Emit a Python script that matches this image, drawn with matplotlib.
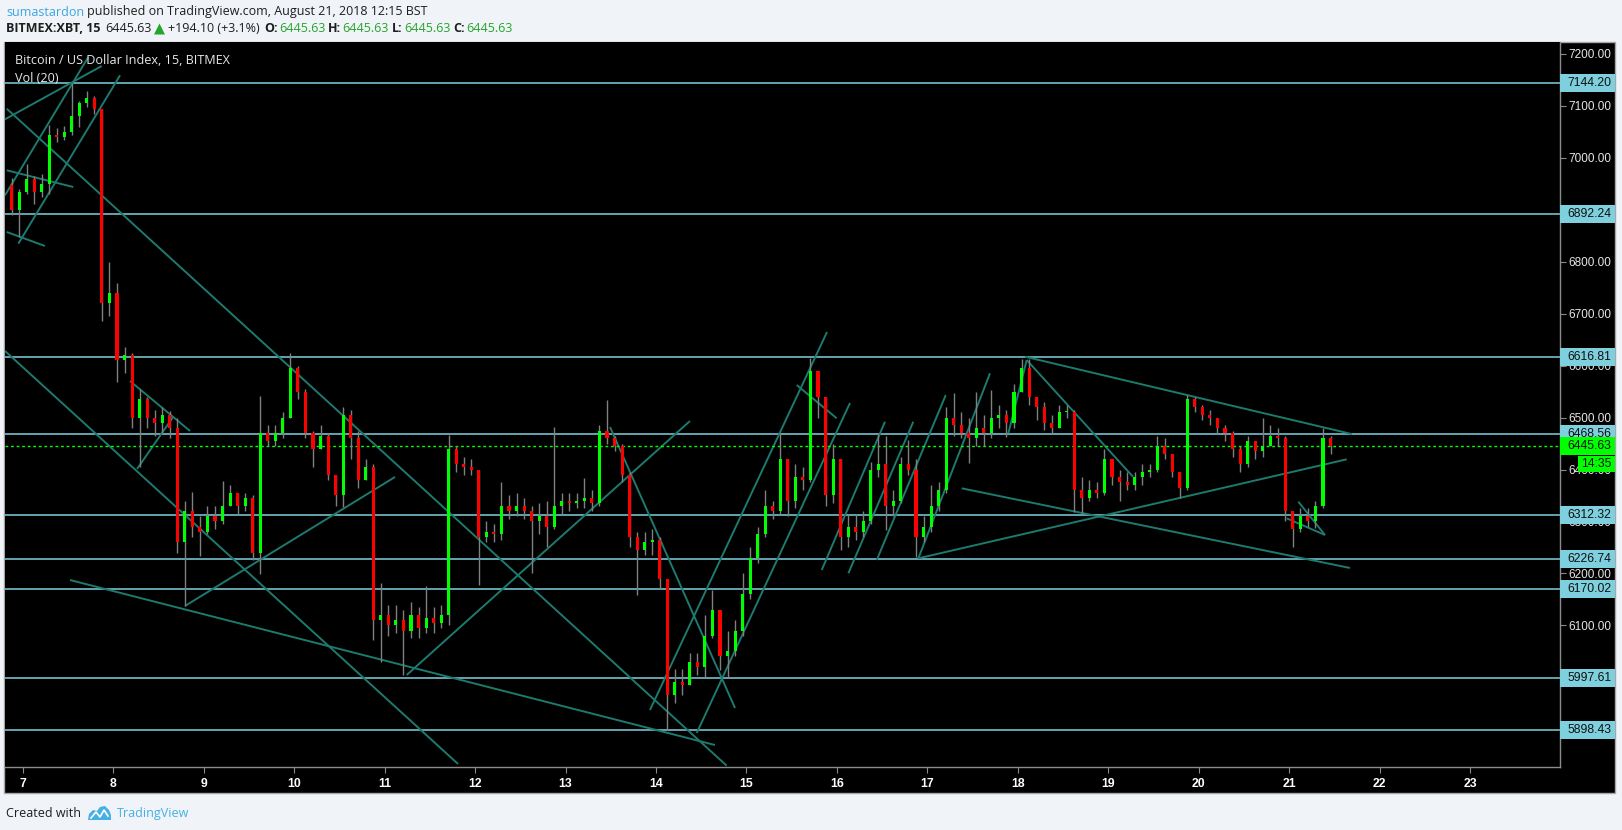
import numpy as np
import pandas as pd
import matplotlib
matplotlib.use('Agg')
import matplotlib.pyplot as plt
import matplotlib.transforms as mtransforms
from matplotlib.patches import Rectangle, Polygon

plt.rcParams['font.family'] = ['Liberation Sans', 'DejaVu Sans']

# ---------------------------------------------------------------- data
# 2 hour candles, first one starts Aug 6 20:00
first_open = 6948
closes = [6900, 6935,
          6960, 6935, 6950, 7045, 7040, 7050, 7080, 7105, 7115, 7095, 6720, 6740,
          6610, 6620, 6500, 6535, 6500, 6490, 6505, 6480, 6260, 6320, 6290, 6280,
          6310, 6300, 6330, 6355, 6330, 6345, 6240, 6470, 6455, 6470, 6500, 6595,
          6550, 6470, 6440, 6465, 6390, 6350, 6505, 6460, 6380, 6405, 6110, 6120,
          6100, 6110, 6090, 6120, 6095, 6115, 6105, 6120, 6440, 6410, 6405, 6400,
          6270, 6280, 6275, 6330, 6320, 6330, 6320, 6300, 6310, 6290, 6330, 6340,
          6335, 6340, 6345, 6335, 6475, 6460, 6445, 6390, 6270, 6245, 6260, 6265,
          6190, 5965, 5990, 5985, 6030, 6020, 6080, 6130, 6040, 6050, 6090, 6160,
          6230, 6275, 6330, 6320, 6420, 6340, 6385, 6380, 6590, 6540, 6350, 6420,
          6270, 6290, 6280, 6300, 6400, 6410, 6330, 6340, 6410, 6400, 6270, 6290,
          6330, 6360, 6500, 6485, 6470, 6460, 6480, 6470, 6500, 6505, 6490, 6550,
          6595, 6540, 6520, 6490, 6480, 6510, 6510, 6360, 6345, 6360, 6355, 6420,
          6385, 6375, 6370, 6385, 6395, 6400, 6445, 6430, 6395, 6365, 6535, 6520,
          6505, 6500, 6480, 6470, 6440, 6410, 6455, 6435, 6445, 6465, 6460, 6320,
          6285, 6310, 6300, 6330, 6460, 6445.63]
highs = [6962, 6940,
         6988, 6965, 6968, 7063, 7058, 7062, 7145, 7110, 7128, 7120, 7095, 6800,
         6760, 6635, 6625, 6555, 6540, 6515, 6520, 6512, 6500, 6340, 6357, 6310,
         6330, 6330, 6377, 6370, 6355, 6355, 6350, 6542, 6485, 6485, 6510, 6624,
         6600, 6555, 6475, 6485, 6470, 6385, 6520, 6515, 6475, 6420, 6410, 6181,
         6140, 6140, 6130, 6145, 6135, 6175, 6135, 6140, 6466, 6445, 6425, 6420,
         6400, 6300, 6295, 6375, 6350, 6355, 6345, 6330, 6335, 6340, 6482, 6355,
         6355, 6355, 6383, 6360, 6485, 6534, 6465, 6450, 6395, 6280, 6280, 6285,
         6270, 6190, 6015, 6015, 6046, 6046, 6120, 6168, 6130, 6090, 6110, 6200,
         6250, 6290, 6360, 6340, 6470, 6420, 6410, 6405, 6614, 6590, 6540, 6450,
         6420, 6315, 6315, 6320, 6415, 6470, 6465, 6360, 6425, 6457, 6420, 6310,
         6370, 6375, 6521, 6547, 6510, 6500, 6550, 6505, 6553, 6525, 6515, 6565,
         6612, 6612, 6540, 6530, 6505, 6525, 6525, 6515, 6385, 6380, 6375, 6440,
         6420, 6400, 6395, 6395, 6410, 6410, 6464, 6460, 6430, 6395, 6543, 6540,
         6525, 6515, 6500, 6485, 6475, 6445, 6465, 6455, 6500, 6485, 6480, 6465,
         6310, 6325, 6325, 6340, 6479, 6465]
lows = [6890, 6847,
        6930, 6912, 6925, 6930, 7030, 7035, 7045, 7060, 7098, 7085, 6686, 6695,
        6569, 6585, 6480, 6405, 6480, 6465, 6470, 6460, 6240, 6137, 6270, 6233,
        6275, 6285, 6295, 6330, 6315, 6320, 6226, 6199, 6446, 6445, 6460, 6500,
        6535, 6460, 6405, 6440, 6380, 6330, 6328, 6420, 6365, 6385, 6072, 6030,
        6080, 6085, 6004, 6075, 6075, 6085, 6085, 6095, 6100, 6395, 6390, 6390,
        6178, 6260, 6260, 6265, 6305, 6310, 6305, 6200, 6275, 6250, 6285, 6315,
        6320, 6325, 6325, 6320, 6330, 6450, 6435, 6375, 6251, 6158, 6235, 6235,
        6170, 5898, 5950, 5965, 5995, 6005, 6000, 6075, 6014, 6000, 6040, 6080,
        6150, 6220, 6270, 6305, 6315, 6310, 6325, 6360, 6375, 6500, 6330, 6335,
        6245, 6250, 6265, 6270, 6295, 6385, 6283, 6310, 6335, 6390, 6231, 6260,
        6280, 6320, 6355, 6465, 6460, 6412, 6445, 6445, 6460, 6480, 6463, 6480,
        6550, 6525, 6495, 6476, 6470, 6495, 6500, 6319, 6316, 6340, 6345, 6350,
        6370, 6340, 6360, 6360, 6370, 6385, 6395, 6420, 6385, 6345, 6360, 6510,
        6495, 6485, 6470, 6455, 6425, 6395, 6405, 6420, 6425, 6450, 6445, 6300,
        6251, 6280, 6290, 6288, 6325, 6430]

levels = [7144.20, 6892.24, 6616.81, 6468.56, 6312.32, 6226.74, 6170.02, 5997.61, 5898.43]
last_price = 6445.63
countdown = '14:35'

day_ticks = list(range(7, 24))
price_ticks = list(range(5900, 7300, 100))

# drawn trend lines, (day of August, price) end points
trend_lines = [
    ((6.803, 7074.3), (7.872, 7176.9)),
    ((6.803, 6927.9), (7.724, 7194.2)),
    ((6.950, 6834.7), (8.075, 7159.0)),
    ((6.822, 7094.7), (14.782, 5829.7)),
    ((6.822, 6976.1), (7.558, 6943.9)),
    ((6.822, 6857.3), (7.245, 6830.3)),
    ((6.803, 6628.2), (11.812, 5833.0)),
    ((7.522, 6187.2), (14.653, 5869.5)),
    ((8.793, 6137.2), (11.115, 6385.6)),
    ((8.185, 6570.4), (8.849, 6474.1)),
    ((8.263, 6401.0), (8.661, 6501.1)),
    ((11.244, 6004.3), (14.376, 6493.4)),
    ((13.492, 6481.8), (14.874, 5940.8)),
    ((13.934, 5936.9), (15.891, 6664.7)),
    ((14.451, 5892.7), (16.145, 6528.0)),
    ((15.556, 6562.7), (15.998, 6498.6)),
    ((15.833, 6206.5), (16.532, 6492.0)),
    ((16.127, 6200.1), (16.845, 6492.0)),
    ((16.441, 6225.7), (17.204, 6543.4)),
    ((16.901, 6229.0), (17.693, 6585.2)),
    ((16.901, 6229.0), (21.637, 6419.6)),
    ((17.380, 6363.8), (21.673, 6210.4)),
    ((17.896, 6469.7), (18.099, 6610.8)),
    ((18.080, 6617.2), (21.692, 6468.3)),
    ((18.099, 6610.8), (19.274, 6386.1)),
    ((21.102, 6338.0), (21.397, 6273.9)),
    ((20.973, 6306.0), (21.397, 6273.9)),
]

# ---------------------------------------------------------------- layout helpers (pixels)
W, H = 1622, 830


def fx(px):
    return px / W


def fy(py):
    return 1 - py / H


LEVEL_COL = '#7fd0de'
TREND_COL = '#1d7a6e'
UP_COL = '#00ff00'
DOWN_COL = '#ff0000'
GRAY = '#8c8c8c'

fig = plt.figure(figsize=(W / 100, H / 100), dpi=100, facecolor='#f0f3f7')

# black chart frame (price + time scale included), drawn below the axes
fig.patches.append(Rectangle((fx(4), fy(793)), (1615 - 4) / W, (793 - 42) / H,
                             transform=fig.transFigure, facecolor='black',
                             edgecolor='#a6a6a6', lw=1, zorder=-5))

ax = fig.add_axes([fx(5), fy(767), (1560 - 5) / W, (767 - 42) / H])
ax.set_zorder(1)
ax.set_facecolor('black')
ax.set_xlim(6.803, 23.995)
ax.set_ylim(5827.2, 7223.1)
for side in ['top', 'left']:
    ax.spines[side].set_visible(False)
for side in ['right', 'bottom']:
    ax.spines[side].set_color(GRAY)
    ax.spines[side].set_linewidth(1)

# candles
times = pd.date_range('2018-08-06 20:00', periods=len(closes), freq='2h')
x = times.day + times.hour / 24 + 1 / 24
c = np.array(closes, dtype=float)
o = np.concatenate([[first_open], c[:-1]])
hi = np.maximum(np.array(highs, dtype=float), np.maximum(o, c))
lo = np.minimum(np.array(lows, dtype=float), np.minimum(o, c))
cols = [UP_COL if cc >= oo else DOWN_COL for oo, cc in zip(o, c)]

ax.vlines(x, lo, hi, color='#808080', lw=1, zorder=3)
ax.bar(x, np.maximum(np.abs(c - o), 2), bottom=np.minimum(o, c), width=0.034,
       color=cols, zorder=4, linewidth=0)

# horizontal levels
for lv in levels:
    ax.axhline(lv, color=LEVEL_COL, lw=1.1, zorder=2)

# trend lines
for (t0, p0), (t1, p1) in trend_lines:
    ax.plot([t0, t1], [p0, p1], color=TREND_COL, lw=1.4, zorder=2.5,
            solid_capstyle='butt')

# current price
ax.axhline(last_price, color=UP_COL, lw=1, ls=(0, (2, 2)), zorder=2.6)

# ticks
ax.yaxis.tick_right()
ax.set_yticks(price_ticks)
ax.set_yticklabels([f'{v:.2f}' for v in price_ticks])
ax.tick_params(axis='y', length=4, color=GRAY, labelcolor='#e6e6e6', labelsize=8.5, pad=2)
ax.set_xticks(day_ticks)
ax.set_xticklabels([str(d) for d in day_ticks])
ax.tick_params(axis='x', length=4, color=GRAY, labelcolor='white', labelsize=8.8, pad=4)
for lab in ax.get_xticklabels():
    lab.set_fontweight('bold')

# price scale labels
blend = mtransforms.blended_transform_factory(ax.transAxes, ax.transData)
box_w = 55 / 1555
half_h = 9 * 1.9254
for lv in levels:
    ax.add_patch(Rectangle((1.0, lv - half_h), box_w, 2 * half_h, transform=blend,
                           facecolor=LEVEL_COL, edgecolor='none', clip_on=False, zorder=5))
    ax.text(1.0047, lv, f'{lv:.2f}', transform=blend, va='center', ha='left',
            fontsize=8.7, color='#101010', zorder=6, clip_on=False)

ax.add_patch(Rectangle((1.0, last_price - half_h), box_w, 2 * half_h, transform=blend,
                       facecolor=UP_COL, edgecolor='none', clip_on=False, zorder=7))
ax.text(1.0047, last_price, f'{last_price:.2f}', transform=blend, va='center', ha='left',
        fontsize=8.7, color='#101010', zorder=8, clip_on=False)
cd_price = 7200 - (464 - 54) * 1.9254
ax.add_patch(Rectangle((1573 / 1555, cd_price - 8.3 * 1.9254), 37 / 1555, 16.6 * 1.9254,
                       transform=blend, facecolor=UP_COL, edgecolor='none',
                       clip_on=False, zorder=7))
ax.text(1591.5 / 1555, cd_price, countdown, transform=blend, va='center', ha='center',
        fontsize=8.7, color='#101010', zorder=8, clip_on=False)

# ---------------------------------------------------------------- header / footer text
sans = ['Open Sans', 'DejaVu Sans']
dark = '#1e1e1e'
green = '#25a52b'
fig.text(fx(6), fy(12), 'sumastardon', color='#3aa7df', family=sans, fontsize=9.0,
         va='center', ha='left')
fig.text(fx(87), fy(12), 'published on TradingView.com, August 21, 2018 12:15 BST', color=dark,
         family=sans, fontsize=9.0, va='center', ha='left')

line2 = [
    (6, 'BITMEX:XBT, 15', dark, 'bold'),
    (105, '6445.63', dark, 'normal'),
    (168, '+194.10 (+3.1%)', dark, 'normal'),
    (264, 'O:', dark, 'bold'),
    (279, '6445.63', green, 'normal'),
    (328, 'H:', dark, 'bold'),
    (342, '6445.63', green, 'normal'),
    (392, 'L:', dark, 'bold'),
    (404, '6445.63', green, 'normal'),
    (453, 'C:', dark, 'bold'),
    (466, '6445.63', green, 'normal'),
]
for px, txt, col, wt in line2:
    fig.text(fx(px), fy(29), txt, color=col, fontweight=wt, family=sans, fontsize=9,
             va='center', ha='left')
fig.patches.append(Polygon([(fx(154), fy(34.5)), (fx(165), fy(34.5)), (fx(159.5), fy(23.5))],
                           closed=True, transform=fig.transFigure, facecolor=green,
                           edgecolor='none'))

fig.text(fx(15), fy(61), 'Bitcoin / US Dollar Index, 15, BITMEX', color='#e8e8e8',
         family=sans, fontsize=9.1, va='center', ha='left', zorder=5)
fig.text(fx(15), fy(79), 'Vol (20)', color='#e8e8e8',
         family=sans, fontsize=9.1, va='center', ha='left', zorder=5)

fig.text(fx(6), fy(813), 'Created with', color=dark, family=sans,
         fontsize=9, va='center', ha='left')
logo_col = '#45b0e4'
fig.patches.append(Polygon([(fx(px), fy(py)) for px, py in
                            [(88, 820), (89, 814), (93, 810), (97, 811), (100, 807),
                             (105, 806), (109, 810), (111, 815), (111, 820)]],
                           closed=True, transform=fig.transFigure, facecolor=logo_col,
                           edgecolor='none'))
fig.lines.append(plt.Line2D([fx(91), fx(96), fx(100), fx(104), fx(108)],
                            [fy(818), fy(812), fy(817), fy(810), fy(816)],
                            transform=fig.transFigure, color='white', lw=1.2))
fig.text(fx(117), fy(813), 'TradingView', color=logo_col, family=sans,
         fontsize=9, va='center', ha='left')

fig.savefig('out.png', dpi=100, facecolor=fig.get_facecolor())
